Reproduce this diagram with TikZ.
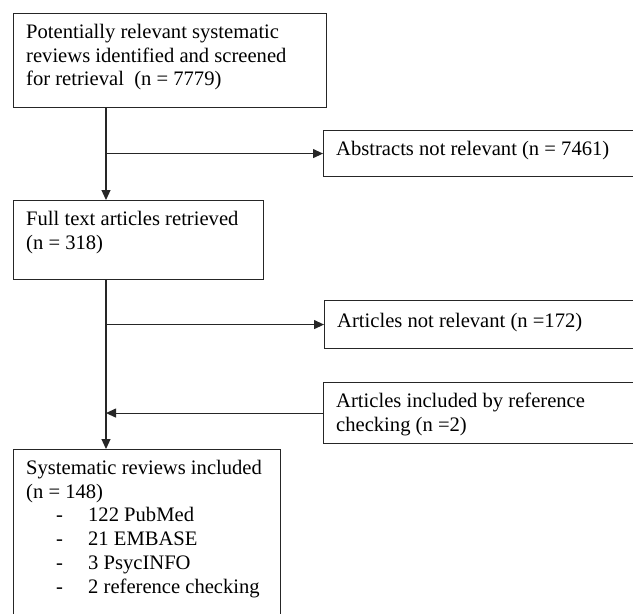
\documentclass[tikz,border=0pt]{standalone}
\usepackage{fontspec}
\setmainfont{Liberation Serif}
\usetikzlibrary{arrows.meta}
\newcommand{\mystrut}{\rule{0pt}{15pt}}
\begin{document}
\begin{tikzpicture}[x=1pt,y=-1pt,
  box/.style={draw=black!85, line width=1.1pt, rectangle, inner sep=0pt, anchor=north west},
  txt/.style={anchor=north west, inner sep=0pt, align=left, font=\fontsize{20.6pt}{23.8pt}\selectfont},
  arr/.style={draw=black!85, line width=1.1pt, -{Triangle[length=10pt,width=9pt]}}]
\useasboundingbox (0,0) rectangle (633,614);
\clip (0,0) rectangle (633,614);
\fill[white] (0,0) rectangle (633,614);
% boxes
\node[box, minimum width=313pt, minimum height=94pt] (b1) at (13,13) {};
\node[box, minimum width=340pt, minimum height=46pt] (abs) at (323,130) {};
\node[box, minimum width=250pt, minimum height=79pt] (b2) at (13,200) {};
\node[box, minimum width=340pt, minimum height=48pt] (anr) at (324,300) {};
\node[box, minimum width=340pt, minimum height=61pt] (inc) at (323,382) {};
\node[box, minimum width=267pt, minimum height=200pt] (b3) at (13,449) {};
% texts
\node[txt] (t1) at (26,23) {\mystrut Potentially relevant systematic\\reviews identified and screened\\for retrieval\ \ (n = 7779)};
\node[txt] (tabs) at (336,140) {\mystrut Abstracts not relevant (n = 7461)};
\node[txt] (t2) at (26,210) {\mystrut Full text articles retrieved\\(n = 318)};
\node[txt] (tanr) at (337,312) {\mystrut Articles not relevant (n =172)};
\node[txt] (tinc) at (336,392) {\mystrut Articles included by reference\\checking (n =2)};
\node[txt] (t3) at (26,459) {\mystrut Systematic reviews included\\(n = 148)\\
\hspace*{30pt}\makebox[32pt][l]{-}122 PubMed\\
\hspace*{30pt}\makebox[32pt][l]{-}21 EMBASE\\
\hspace*{30pt}\makebox[32pt][l]{-}3 PsycINFO\\
\hspace*{30pt}\makebox[32pt][l]{-}2 reference checking};
% connectors
\coordinate (trunk) at (106,0);
\draw[arr] (b1.south -| trunk) -- (b2.north -| trunk);
\draw[arr] (trunk |- abs.west) -- (abs.west);
\draw[arr] (b2.south -| trunk) -- (b3.north -| trunk);
\draw[arr] (trunk |- anr.west) -- (anr.west);
\draw[arr] (inc.west) -- (trunk |- inc.west);
\end{tikzpicture}
\end{document}
